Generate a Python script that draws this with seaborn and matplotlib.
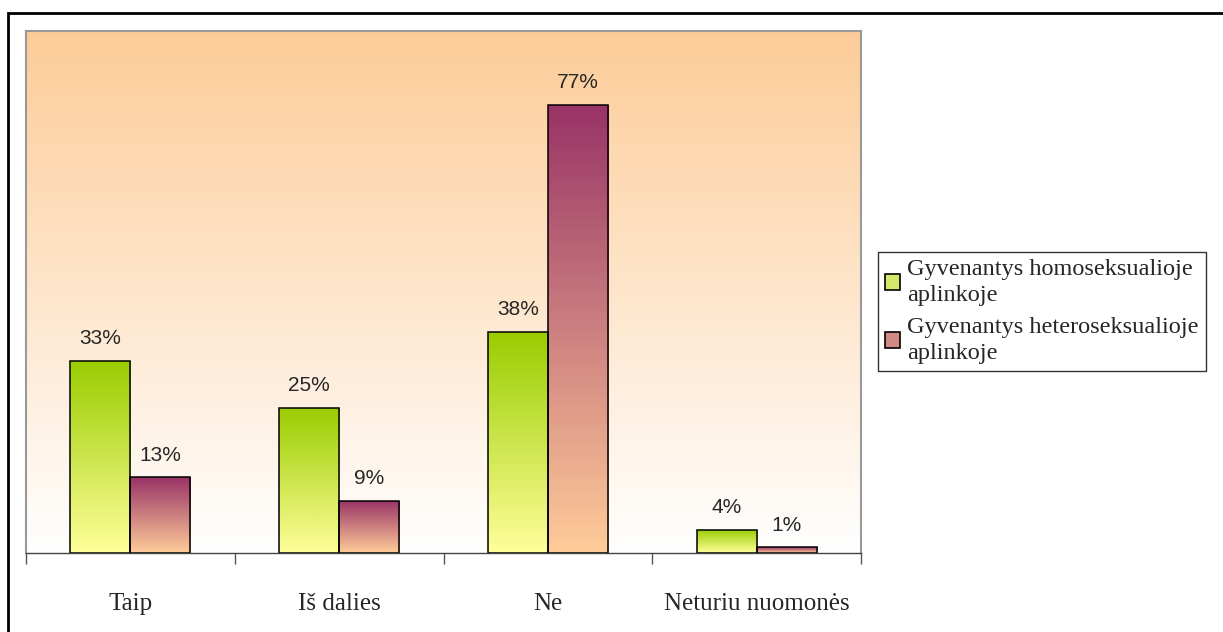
import numpy as np
import pandas as pd
import matplotlib
matplotlib.use("Agg")
import matplotlib.pyplot as plt
import seaborn as sns
from matplotlib.colors import LinearSegmentedColormap
from matplotlib.patches import Rectangle

categories = ["Taip", "Iš dalies", "Ne", "Neturiu nuomonės"]
series_names = ["Gyvenantys homoseksualioje\naplinkoje", "Gyvenantys heteroseksualioje\naplinkoje"]
homo_values = [33, 25, 38, 4]
hetero_values = [13, 9, 77, 1]

df = pd.DataFrame({
    "cat": categories * 2,
    "series": [series_names[0]] * 4 + [series_names[1]] * 4,
    "value": homo_values + hetero_values,
})

sns.set_theme(style="white")
plt.rcParams["font.family"] = ["Liberation Serif", "DejaVu Serif"]

fig = plt.figure(figsize=(12.23, 6.32), dpi=100)
ax = fig.add_axes([26/1223, 1 - 553/632, 835/1223, 522/632])

sns.barplot(data=df, x="cat", y="value", hue="series", order=categories,
            hue_order=series_names, width=0.575, ax=ax, legend=False,
            edgecolor="black", linewidth=1.1, saturation=1, palette=["#99CC00", "#993366"])

grad = np.linspace(0, 1, 256).reshape(-1, 1)
bg = LinearSegmentedColormap.from_list("bg", ["#FFFFFF", "#FDCC98"])
ax.imshow(grad, cmap=bg, aspect="auto", extent=[0, 1, 0, 1], transform=ax.transAxes,
          origin="lower", zorder=0, interpolation="bicubic")

cmaps = [LinearSegmentedColormap.from_list("g", ["#FFFF99", "#99CC00"]),
         LinearSegmentedColormap.from_list("m", ["#FFCC99", "#993366"])]

all_values = homo_values + hetero_values
patches = list(ax.patches)
for i, p in enumerate(patches):
    s = i // 4
    x0, y0 = p.get_x(), p.get_y()
    w, h = p.get_width(), p.get_height()
    p.set_zorder(3)
    p.set_facecolor("none")
    im = ax.imshow(grad, cmap=cmaps[s], aspect="auto", extent=[x0, x0 + w, y0, y0 + h],
                   origin="lower", zorder=2, interpolation="bicubic")
    im.set_clip_path(p)
    ax.annotate(f"{all_values[i]}%", (x0 + w / 2, y0 + h), xytext=(0, 9), textcoords="offset points",
                ha="center", va="bottom", fontsize=15, family=["Liberation Sans", "DejaVu Sans"])

ax.set_xlim(-0.5, 3.5)
ax.set_ylim(0, 89.7)

ax.set_xticks([-0.5, 0.5, 1.5, 2.5, 3.5])
ax.set_xticklabels([])
ax.tick_params(axis="x", which="major", direction="out", length=8, width=1, color="#555555", bottom=True)
ax.set_xticks([0, 1, 2, 3], minor=True)
ax.set_xticklabels(categories, minor=True, fontsize=18)
ax.tick_params(axis="x", which="minor", length=0, pad=29)
ax.set_yticks([])
ax.set_xlabel("")
ax.set_ylabel("")

for side in ["left", "top", "right"]:
    ax.spines[side].set_color("#999999")
    ax.spines[side].set_linewidth(1.5)
ax.spines["bottom"].set_color("#444444")
ax.spines["bottom"].set_linewidth(1)
for s in ax.spines.values():
    s.set_visible(True)
    s.set_zorder(5)

handles = [Rectangle((0, 0), 1, 1, facecolor="#D6E86A", edgecolor="black", linewidth=1.2),
           Rectangle((0, 0), 1, 1, facecolor="#D08A84", edgecolor="black", linewidth=1.2)]
leg = fig.legend(handles, series_names, loc="upper left", bbox_to_anchor=(878/1223, 1 - 252/632),
                 frameon=True, fancybox=False, edgecolor="black", fontsize=17.5,
                 handlelength=0.6, handleheight=0.6, handletextpad=0.3, borderpad=0.3,
                 labelspacing=0.45, borderaxespad=0)
leg.get_frame().set_linewidth(1)
for t in leg.get_texts():
    t.set_linespacing(1.3)

fig.patches.append(Rectangle((8/1223, -0.1), 1.2, 1 - 13/632 + 0.1, transform=fig.transFigure,
                             fill=False, edgecolor="black", linewidth=2, zorder=10))

fig.savefig("out.png", dpi=100)
